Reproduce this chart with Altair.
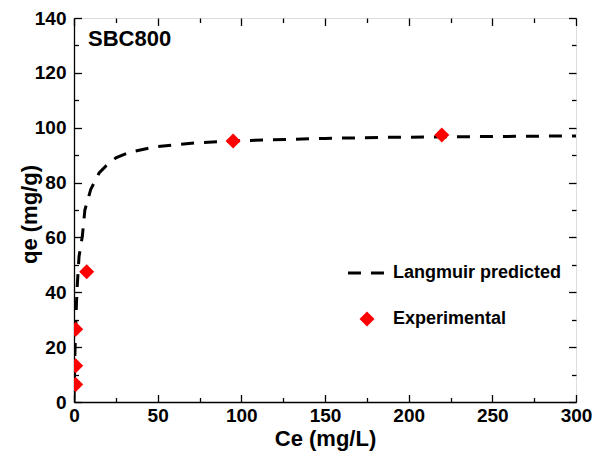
import altair as alt
import pandas as pd

# ---- data ----
ce_exp = [1.0, 1.0, 1.0, 7.6, 95.1, 219.8]
qe_exp = [6.4, 13.2, 26.5, 47.5, 95.2, 97.3]

ce_fit = [0, 0.5, 1, 1.5, 2, 3, 5, 6.5, 10, 15, 19, 25, 33, 48, 64, 74, 100, 150, 187, 250, 300]
qe_fit = [0, 16, 27.5, 36.5, 43, 53, 60.5, 70, 77.5, 83.5, 86, 89, 91, 93, 94, 94.5, 95.3, 96.1, 96.5, 96.8, 97.0]

x_major = [0, 50, 100, 150, 200, 250, 300]
x_minor = [25, 75, 125, 175, 225, 275]
y_major = [0, 20, 40, 60, 80, 100, 120, 140]
y_minor = [10, 30, 50, 70, 90, 110, 130]

W, H = 502, 384
FONT = "Liberation Sans"
MAJ, MIN = 7.5, 4.5

fit_df = pd.DataFrame({"Ce": ce_fit, "qe": qe_fit, "series": "Langmuir predicted"})
exp_df = pd.DataFrame({"Ce": ce_exp, "qe": qe_exp, "series": "Experimental"})

xs = alt.Scale(domain=[0, 300], nice=False, zero=False)
ys = alt.Scale(domain=[0, 140], nice=False, zero=False)


def tick_axis(orient, values, size, offset):
    # inward-pointing ticks: an axis shifted into the plot so its outward ticks end on the frame
    return alt.Axis(orient=orient, values=values, tickSize=size, offset=offset,
                    labels=False, domain=False, title=None, grid=False,
                    ticks=True, tickColor="black", tickWidth=1.3)


label_kw = dict(labelFont=FONT, labelFontSize=19, labelFontWeight="bold", labelColor="black",
                titleFont=FONT, titleFontSize=22, titleFontWeight="bold", titleColor="black",
                domainColor="black", domainWidth=1.3, grid=False, ticks=False, labelFlush=False)

line = alt.Chart(fit_df).mark_line(color="black", strokeWidth=3, clip=True).encode(
    x=alt.X("Ce:Q", scale=xs, axis=alt.Axis(orient="bottom", values=x_major, title="Ce (mg/L)",
                                            labelPadding=4, titlePadding=3, **label_kw)),
    y=alt.Y("qe:Q", scale=ys, axis=alt.Axis(orient="left", values=y_major, title="qe (mg/g)",
                                            labelPadding=8, titleX=-33, titleY=196, **label_kw)),
    strokeDash=alt.StrokeDash("series:N",
                              scale=alt.Scale(domain=["Langmuir predicted"], range=[[13, 10]]),
                              legend=alt.Legend(orient="none", legendX=272, legendY=235, title=None,
                                                labelFont=FONT, labelFontSize=18, labelFontWeight="bold",
                                                labelColor="black", symbolType="stroke",
                                                symbolStrokeWidth=3, symbolSize=1300, labelLimit=0,
                                                symbolStrokeColor="black", labelOffset=7)),
)

points = alt.Chart(exp_df).mark_point(shape="diamond", filled=True, color="red", size=225,
                                      opacity=1, clip=True).encode(
    x=alt.X("Ce:Q", scale=xs, axis=tick_axis("bottom", x_major, MAJ, -MAJ)),
    y=alt.Y("qe:Q", scale=ys, axis=tick_axis("left", y_major, MAJ, -MAJ)),
    shape=alt.Shape("series:N", scale=alt.Scale(domain=["Experimental"], range=["diamond"]),
                    legend=alt.Legend(orient="none", legendX=284, legendY=292, title=None,
                                      labelFont=FONT, labelFontSize=18, labelFontWeight="bold",
                                      labelColor="black", symbolSize=225, symbolFillColor="red",
                                      symbolStrokeColor="red", symbolOpacity=1, labelOffset=17,
                                      labelLimit=0)),
)


def ghost(xax, yax):
    return alt.Chart(exp_df).mark_point(opacity=0).encode(
        x=alt.X("Ce:Q", scale=xs, axis=xax),
        y=alt.Y("qe:Q", scale=ys, axis=yax),
    )


g1 = ghost(tick_axis("bottom", x_major, MAJ, -H), tick_axis("left", y_major, MAJ, -W))
g2 = ghost(tick_axis("bottom", x_minor, MIN, -H), tick_axis("left", y_minor, MIN, -W))
g3 = ghost(tick_axis("bottom", x_minor, MIN, -MIN), tick_axis("left", y_minor, MIN, -MIN))

chart = alt.layer(line, points, g1, g2, g3).resolve_axis(x="independent", y="independent").properties(
    width=W, height=H,
    autosize=alt.AutoSizeParams(type="none"),
    padding={"left": 66, "top": 10, "right": 16, "bottom": 55},
    title=alt.TitleParams(text="SBC800", anchor="start", frame="group", orient="top",
                          font=FONT, fontSize=22, fontWeight="bold", color="black",
                          offset=0, dx=14, dy=42),
).configure_view(stroke="black", strokeWidth=1.3).configure(background="white")

chart.save("out.html", embed_options={"renderer": "svg", "actions": False})
